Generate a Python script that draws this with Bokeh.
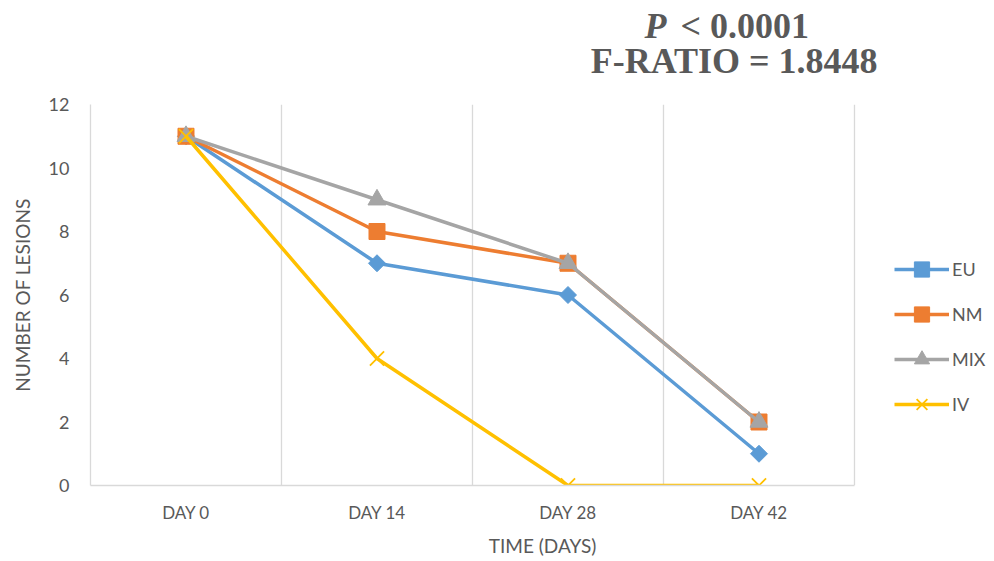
import math
from bokeh.plotting import figure
from bokeh.layouts import column
from bokeh.models import Range1d, Legend, LegendItem, FixedTicker
from bokeh.core.properties import value
from bokeh.embed import file_html
from bokeh.resources import INLINE

categories = ["DAY 0", "DAY 14", "DAY 28", "DAY 42"]
eu = [11, 7, 6, 1]
nm = [11, 8, 7, 2]
mix = [11, 9, 7, 2]
iv = [11, 4, 0, 0]
y_ticks = [0, 2, 4, 6, 8, 10, 12]

xs = list(range(len(categories)))
TXT = "#595959"
FONT = "Lato"
GRID = "#D9D9D9"

x_range = Range1d(-0.5, 4.233)   # extends past the last category to hold the legend

# ---- header with the statistics
head = figure(width=994, height=94, output_backend="svg", toolbar_location=None,
              x_range=x_range, y_range=Range1d(0, 94),
              min_border_left=90, min_border_right=0, min_border_top=0, min_border_bottom=0,
              x_axis_location=None, y_axis_location=None)
head.outline_line_color = None
head.xgrid.visible = False
head.ygrid.visible = False
SERIF = value("Liberation Serif")
head.text(x=[2.5156], y=[69], text=["P"], text_font=SERIF, text_font_style="bold italic",
          text_font_size="36px", text_color=TXT, text_align="right", text_baseline="middle")
head.text(x=[2.5885], y=[69], text=["< 0.0001"], text_font=SERIF, text_font_style="bold",
          text_font_size="36px", text_color=TXT, text_align="left", text_baseline="middle")
head.text(x=[2.8698], y=[34], text=["F-RATIO = 1.8448"], text_font=SERIF, text_font_style="bold",
          text_font_size="36px", text_color=TXT, text_align="center", text_baseline="middle")

# ---- main chart
p = figure(width=994, height=467, output_backend="svg", toolbar_location=None,
           x_range=x_range, y_range=Range1d(y_ticks[0], y_ticks[-1]),
           min_border_left=90, min_border_right=0, min_border_top=10, min_border_bottom=76)
p.outline_line_color = None

p.xaxis.ticker = FixedTicker(ticks=xs)
p.xaxis.major_label_overrides = {i: c for i, c in enumerate(categories)}
p.xaxis.bounds = (xs[0] - 0.5, xs[-1] + 0.5)
p.yaxis.ticker = FixedTicker(ticks=y_ticks)
for ax in (p.xaxis[0], p.yaxis[0]):
    ax.axis_line_color = GRID
    ax.axis_line_width = 1.3
    ax.major_tick_line_color = None
    ax.minor_tick_line_color = None
    ax.major_label_text_color = TXT
    ax.major_label_text_font = FONT
    ax.major_label_text_font_size = "18px"
    ax.axis_label_text_color = TXT
    ax.axis_label_text_font = FONT
    ax.axis_label_text_font_size = "19px"
    ax.axis_label_text_font_style = "normal"
p.xaxis.major_label_text_font_size = "17px"
p.xaxis.major_label_standoff = 10
p.xaxis.axis_label = "TIME (DAYS)"
p.xaxis.axis_label_standoff = 8
p.yaxis.axis_label = "NUMBER OF LESIONS"
p.yaxis.major_label_standoff = 15
p.yaxis.axis_label_standoff = 12

p.xgrid.visible = False
p.ygrid.visible = False
bounds = [x + 0.5 for x in xs]
p.segment(x0=bounds, y0=[y_ticks[0]] * len(bounds), x1=bounds, y1=[y_ticks[-1]] * len(bounds),
          line_color=GRID, line_width=1.3)

lw = 3.5
r_eu = p.line(xs, eu, color="#5B9BD5", line_width=lw)
m_eu = p.scatter(xs, eu, marker="square", angle=math.pi / 4, size=12, color="#5B9BD5")
r_nm = p.line(xs, nm, color="#ED7D31", line_width=lw)
m_nm = p.scatter(xs, nm, marker="square", size=16, color="#ED7D31")
r_mix = p.line(xs, mix, color="#A5A5A5", line_width=lw)
m_mix = p.scatter(xs, mix, marker="triangle", size=18, color="#A5A5A5")
r_iv = p.line(xs, iv, color="#FFC000", line_width=lw)
m_iv = p.scatter(xs, iv, marker="x", size=20, line_color="#FFC000", line_width=1.8)

legend = Legend(items=[
    LegendItem(label="EU", renderers=[r_eu, m_eu]),
    LegendItem(label="NM", renderers=[r_nm, m_nm]),
    LegendItem(label="MIX", renderers=[r_mix, m_mix]),
    LegendItem(label="IV", renderers=[r_iv, m_iv]),
], location=(804, 62), orientation="vertical")
legend.border_line_color = None
legend.background_fill_alpha = 0
legend.glyph_width = 55
legend.glyph_height = 38
legend.label_height = 38
legend.label_text_font = FONT
legend.label_text_font_size = "18px"
legend.label_text_color = TXT
legend.label_standoff = 3
legend.spacing = 7
legend.padding = 0
legend.margin = 0
p.add_layout(legend)

open("out.html", "w").write(file_html(column(head, p, spacing=0), INLINE))
